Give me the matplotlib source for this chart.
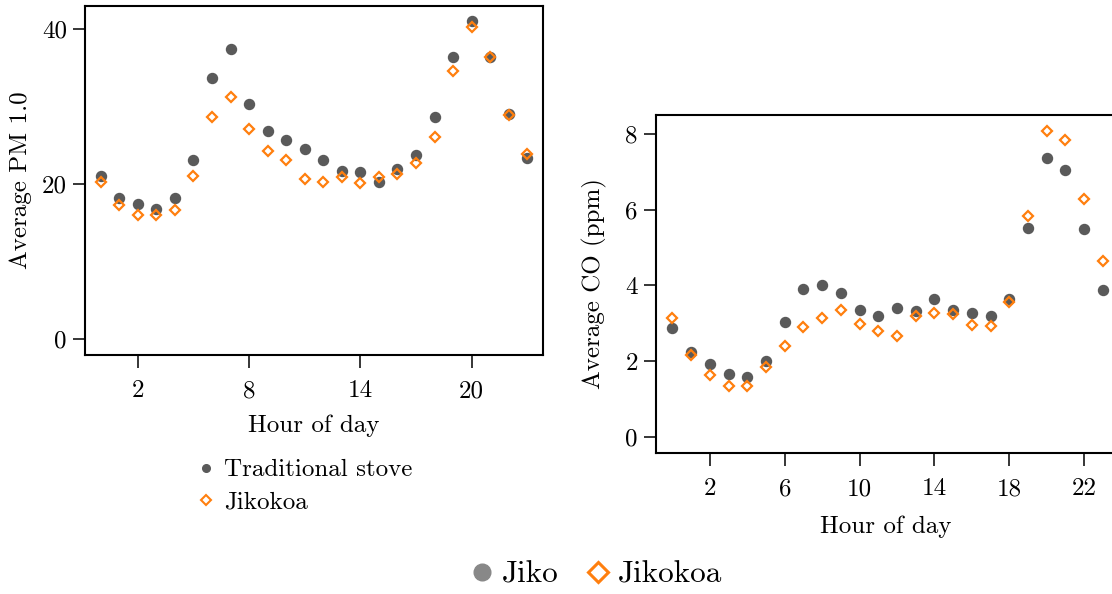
import matplotlib
matplotlib.use("Agg")
import matplotlib.pyplot as plt
from matplotlib.lines import Line2D

plt.rcParams['font.family'] = ['cmr10', 'DejaVu Serif']
plt.rcParams['mathtext.fontset'] = 'cm'
plt.rcParams['axes.formatter.use_mathtext'] = True

hours = list(range(24))

pm_trad = [21.0, 18.2, 17.4, 16.8, 18.2, 23.1, 33.7, 37.4, 30.3, 26.9, 25.7, 24.5,
           23.1, 21.7, 21.5, 20.3, 22.0, 23.7, 28.7, 36.4, 41.1, 36.4, 29.1, 23.3]
pm_jiko = [20.2, 17.3, 16.0, 16.0, 16.7, 21.0, 28.7, 31.2, 27.1, 24.3, 23.1, 20.6,
           20.2, 20.9, 20.1, 20.9, 21.3, 22.7, 26.1, 34.6, 40.3, 36.4, 28.9, 23.9]

co_trad = [2.86, 2.25, 1.91, 1.67, 1.59, 2.01, 3.04, 3.91, 4.01, 3.80, 3.35, 3.20,
           3.40, 3.33, 3.64, 3.35, 3.26, 3.20, 3.65, 5.52, 7.37, 7.05, 5.49, 3.88]
co_jiko = [3.13, 2.15, 1.62, 1.33, 1.33, 1.83, 2.39, 2.91, 3.13, 3.35, 2.97, 2.80,
           2.66, 3.18, 3.27, 3.23, 2.96, 2.93, 3.56, 5.84, 8.09, 7.84, 6.28, 4.64]

pm_ticks = [0, 20, 40]
co_ticks = [0, 2, 4, 6, 8]
pm_xticks = [2, 8, 14, 20]
co_xticks = [2, 6, 10, 14, 18, 22]

DOT = '#5a5a5a'
ORANGE = '#ff7f0e'
FS = 18

fig = plt.figure(figsize=(11.12, 5.94), dpi=100)

def style(ax):
    for s in ax.spines.values():
        s.set_linewidth(1.5)
        s.set_color('black')
    ax.tick_params(direction='out', length=9, width=1.1, labelsize=FS)
    ax.tick_params(axis='x', pad=9)
    ax.tick_params(axis='y', pad=4)

def draw(ax, trad, jiko):
    ax.plot(hours, trad, 'o', color=DOT, ms=7.2, mec=DOT, ls='none', zorder=2)
    ax.plot(hours, jiko, 'D', color=ORANGE, ms=5.6, mfc='none', mec=ORANGE,
            mew=1.6, ls='none', zorder=3)

ax1 = fig.add_axes([85/1112, 239/594, 458/1112, 349/594])
draw(ax1, pm_trad, pm_jiko)
ax1.set_xlim(-0.85, 23.85)
ax1.set_ylim(-2.1, 43.0)
ax1.set_yticks(pm_ticks)
ax1.set_xticks(pm_xticks)
ax1.set_xticklabels([str(t) for t in pm_xticks])
ax1.set_yticklabels([str(t) for t in pm_ticks])
ax1.set_xlabel('Hour of day', fontsize=FS, labelpad=9)
ax1.set_ylabel('Average PM 1.0', fontsize=FS, labelpad=7)
style(ax1)

h1 = [Line2D([], [], marker='o', color=DOT, ms=5.5, ls='none'),
      Line2D([], [], marker='D', color=ORANGE, mfc='none', mec=ORANGE, mew=1.5, ms=4.8, ls='none')]
fig.legend(h1, ['Traditional stove', 'Jikokoa'], loc='upper left',
           bbox_to_anchor=(198/1112, 1 - 459/594), frameon=False, fontsize=FS,
           handlelength=0.6, handletextpad=0.45, labelspacing=0.38, borderpad=0,
           borderaxespad=0)

ax2 = fig.add_axes([656/1112, 141/594, 460/1112, 338/594])
draw(ax2, co_trad, co_jiko)
ax2.set_xlim(-0.88, 23.7)
ax2.set_ylim(-0.43, 8.5)
ax2.set_yticks(co_ticks)
ax2.set_xticks(co_xticks)
ax2.set_xticklabels([str(t) for t in co_xticks])
ax2.set_yticklabels([str(t) for t in co_ticks])
ax2.set_xlabel('Hour of day', fontsize=FS, labelpad=11)
ax2.set_ylabel('Average CO (ppm)', fontsize=FS, labelpad=13)
style(ax2)

h2 = [Line2D([], [], marker='o', color='#888888', ms=12, ls='none'),
      Line2D([], [], marker='D', color=ORANGE, mfc='none', mec=ORANGE, mew=2.2, ms=10, ls='none')]
fig.legend(h2, ['Jiko', 'Jikokoa'], loc='center', ncol=2,
           bbox_to_anchor=(0.5357, 1 - 575/594), frameon=False, fontsize=22.5,
           handlelength=0.8, handletextpad=0.25, columnspacing=0.85, borderpad=0)

fig.savefig('out.png', dpi=100)
